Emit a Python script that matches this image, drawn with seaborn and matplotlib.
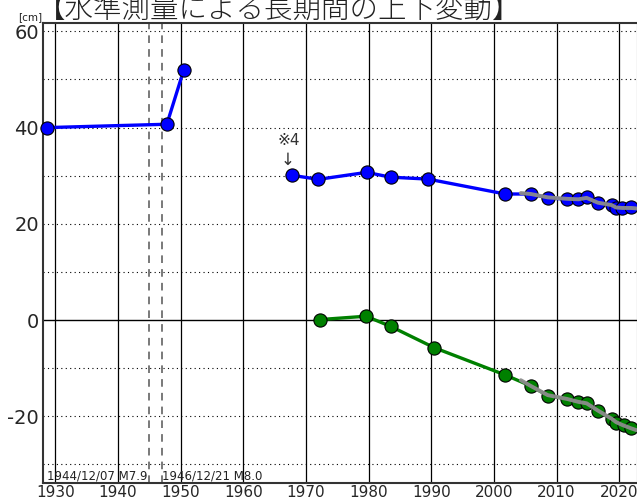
import matplotlib
matplotlib.use("Agg")
import matplotlib.pyplot as plt
import seaborn as sns
import pandas as pd
import numpy as np

# ---- data ----
blue_old_years = [1928.6, 1947.8, 1950.5]
blue_old_vals = [40.0, 40.7, 52.0]

blue_years = [1967.7, 1972.0, 1979.7, 1983.5, 1989.5, 2001.8, 2005.9, 2008.6,
              2011.75, 2013.5, 2014.8, 2016.6, 2018.8, 2019.5, 2020.5, 2021.9]
blue_vals = [30.1, 29.25, 30.7, 29.7, 29.3, 26.2, 26.2, 25.4,
             25.1, 25.1, 25.6, 24.3, 23.9, 23.3, 23.3, 23.4]

green_years = [1972.2, 1979.6, 1983.5, 1990.5, 2001.8, 2005.9, 2008.6, 2011.75,
               2013.5, 2014.8, 2016.6, 2018.8, 2019.5, 2020.8, 2021.9]
green_vals = [0.1, 0.8, -1.3, -5.75, -11.4, -13.7, -15.7, -16.4,
              -17.1, -17.3, -18.9, -20.6, -21.3, -21.8, -22.5]

gray_years = [2004.3, 2005.9, 2008.6, 2011.7, 2013.5, 2014.8, 2016.6, 2018.8,
              2019.5, 2020.5, 2021.9, 2022.8]
gray_blue_vals = [26.4, 26.2, 25.5, 25.2, 25.1, 25.4, 24.4, 23.9, 23.4, 23.3, 23.3, 23.2]
gray_green_vals = [-12.5, -13.7, -15.6, -16.4, -17.0, -17.3, -18.8, -20.5,
                   -21.2, -21.8, -22.5, -22.9]

quake_years = [1944.93, 1946.97]
quake_labels = ["1944/12/07 M7.9", "1946/12/21 M8.0"]

x_ticks = list(range(1930, 2021, 10))
y_ticks = [-20, 0, 20, 40, 60]
y_minor = list(range(-30, 61, 10))

title = "【水準測量による長期間の上下変動】"

# ---- style ----
sns.set_style("white")
plt.rcParams['font.family'] = ['DejaVu Sans', 'Noto Sans CJK JP']
plt.rcParams['axes.unicode_minus'] = False

fig = plt.figure(figsize=(6.37, 5.0), dpi=100)
ax = fig.add_axes([0.068, 0.0346, 0.9335, 0.919])

ax.set_xlim(1928.08, 2023.0)
ax.set_ylim(-33.8, 61.7)

# grid
for x in x_ticks:
    ax.axvline(x, color='black', lw=0.9, zorder=1)
for y in y_minor:
    if y == 0:
        ax.axhline(0, color='black', lw=1.0, zorder=1)
    else:
        ax.axhline(y, color='black', lw=0.8, ls=(0, (1, 3)), zorder=1)

for qx in quake_years:
    ax.axvline(qx, color='#555555', lw=1.1, ls=(0, (5, 4)), zorder=1)

mk = dict(marker='o', markersize=9.5, markeredgecolor='black', markeredgewidth=0.8)

df_bo = pd.DataFrame({'year': blue_old_years, 'val': blue_old_vals})
df_b = pd.DataFrame({'year': blue_years, 'val': blue_vals})
df_g = pd.DataFrame({'year': green_years, 'val': green_vals})
df_gb = pd.DataFrame({'year': gray_years, 'val': gray_blue_vals})
df_gg = pd.DataFrame({'year': gray_years, 'val': gray_green_vals})

sns.lineplot(data=df_bo, x='year', y='val', ax=ax, color='#0000ff', lw=2.4,
             sort=False, zorder=3, clip_on=False, **mk)
sns.lineplot(data=df_b, x='year', y='val', ax=ax, color='#0000ff', lw=2.4,
             sort=False, zorder=3, **mk)
sns.lineplot(data=df_g, x='year', y='val', ax=ax, color='#008000', lw=2.4,
             sort=False, zorder=3, **mk)
sns.lineplot(data=df_gb, x='year', y='val', ax=ax, color='#8c8c8c', lw=2.8,
             sort=False, zorder=4, alpha=0.95)
sns.lineplot(data=df_gg, x='year', y='val', ax=ax, color='#8c8c8c', lw=2.8,
             sort=False, zorder=4, alpha=0.95)

ax.set_xlabel('')
ax.set_ylabel('')
ax.set_xticks(x_ticks)
ax.set_xticklabels([str(t) for t in x_ticks], fontsize=11)
ax.set_yticks(y_ticks)
ax.set_yticklabels([str(t) for t in y_ticks], fontsize=14)
ax.set_yticks(y_minor, minor=True)
ax.tick_params(axis='both', which='both', direction='in', length=4, width=1,
               color='black', pad=3)
ax.tick_params(axis='x', pad=1.5)

for s in ax.spines.values():
    s.set_color('#333333')
    s.set_linewidth(1.5)

# annotations
ax.text(quake_years[0] - 0.25, -32.4, quake_labels[0], ha='right', va='center',
        fontsize=8.5, color='#222222', zorder=5)
ax.text(quake_years[1] + 0.05, -32.4, quake_labels[1], ha='left', va='center',
        fontsize=8.5, color='#222222', zorder=5)
ax.text(1967.2, 37.3, "※4", ha='center', va='center', fontsize=11,
        color='#333333', family=['DejaVu Sans', 'Noto Sans CJK JP'])
ax.text(1967.1, 33.3, "↓", ha='center', va='center', fontsize=12,
        color='#333333', family=['DejaVu Sans', 'Noto Sans CJK JP'])

fig.text(0.058, 0.982, title, ha='left', va='center', fontsize=20.5,
         color='#222222', family=['Noto Sans CJK JP', 'DejaVu Sans'],
         fontweight='light')
fig.text(0.028, 0.966, "[cm]", ha='left', va='center', fontsize=7.5,
         color='#222222')

fig.savefig('out.png', dpi=100)
